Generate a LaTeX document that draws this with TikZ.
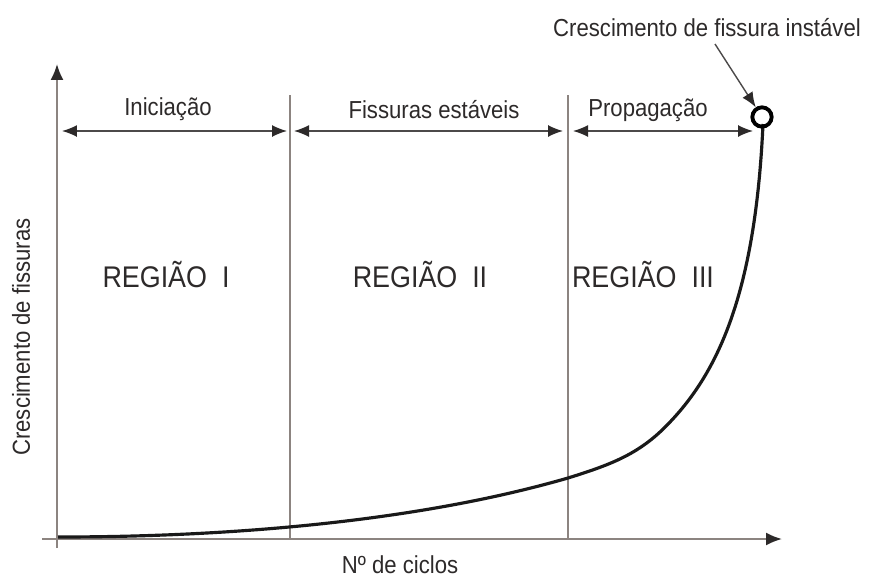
\documentclass[tikz,border=0pt]{standalone}
\usepackage{fontspec}
\setmainfont{Liberation Sans}[FakeStretch=0.9]
\usetikzlibrary{arrows.meta, positioning, calc}
\definecolor{axisgrey}{RGB}{140,132,128}
\definecolor{inkgrey}{RGB}{45,42,42}

\begin{document}
\begin{tikzpicture}[x=0.02cm, y=-0.02cm,
    axis/.style={draw=axisgrey, line width=1.1pt},
    tip/.style={-{Latex[length=3.2mm,width=2.6mm,color=inkgrey]}},
    span/.style={draw=inkgrey!85, line width=0.8pt, {Latex[length=3mm,width=2.4mm,color=inkgrey]}-{Latex[length=3mm,width=2.4mm,color=inkgrey]}},
    lbl/.style={font=\fontsize{14}{16}\selectfont, text=inkgrey, inner sep=0pt},
    reg/.style={font=\fontsize{17}{19}\selectfont, text=inkgrey, inner sep=0pt}]
\useasboundingbox (0,0) rectangle (872,578);
% axes
\coordinate (ytop) at (57,64);
\coordinate (xend) at (782,539);
\draw[axis, tip] (57,548) -- (ytop);
\draw[axis, tip] (42,539) -- (xend);
% region borders
\draw[axis] (290,95) -- (290,539);
\draw[axis] (568,95) -- (568,539);
% spans
\coordinate (a1) at (62,131);  \coordinate (a2) at (287,131);
\coordinate (b1) at (294,131); \coordinate (b2) at (563,131);
\coordinate (c1) at (573,131); \coordinate (c2) at (753,131);
\draw[span] (a1) -- (a2);
\draw[span] (b1) -- (b2);
\draw[span] (c1) -- (c2);
\node[lbl] (ini) at (168,109) {Iniciação};
\node[lbl] (est) at (434,110) {Fissuras estáveis};
\node[lbl] (prop) at (648,110) {Propagação};
% regions
\node[reg] (r1) at (166,275) {REGIÃO\ \ I};
\node[reg] (r2) at (420,275) {REGIÃO\ \ II};
\node[reg] (r3) at (643,275) {REGIÃO\ \ III};
% curve
\draw[line width=1.8pt, black!90] (58,537) .. controls (250,537) and (430,518) .. (568,478)
  .. controls (610,465) and (635,455) .. (660,432)
  .. controls (715,380) and (755,300) .. (763,124);
\node[draw, circle, line width=2.2pt, minimum size=11pt, inner sep=0pt] (end) at (762,117) {};
\node[lbl] (inst) at (707,28) {Crescimento de fissura instável};
\draw[line width=0.8pt, inkgrey!85, -{Latex[length=3mm,width=2.4mm,color=inkgrey]}] (715,44) -- (end);
% axis titles
\node[lbl, rotate=90] (ylab) at (21,337) {Crescimento de fissuras};
\node[lbl] (xlab) at (400,565) {Nº de ciclos};
\end{tikzpicture}
\end{document}
